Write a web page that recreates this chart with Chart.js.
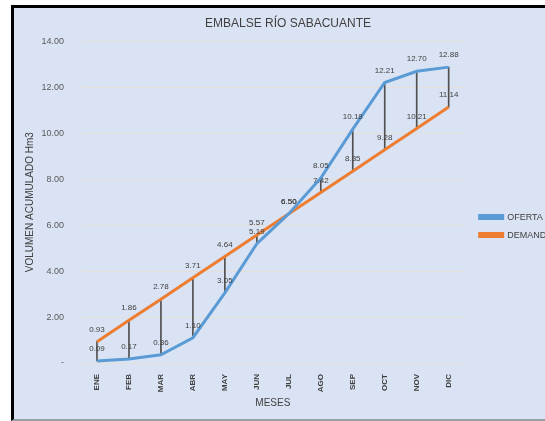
<!DOCTYPE html>
<html>
<head>
<meta charset="utf-8">
<script src="https://cdn.jsdelivr.net/npm/chart.js@4.4.0/dist/chart.umd.min.js"></script>
<style>
  html, body { margin: 0; padding: 0; background: #fff; overflow: hidden; width: 545px; height: 421px; }
  #frame {
    position: absolute; left: 11px; top: 5px;
    width: 548px; height: 411px;
    border-left: 3px solid #000; border-top: 3px solid #000; border-bottom: 2px solid #9a9ea6;
    background: #dae3f3;
  }
  #chart { display: block; }
</style>
</head>
<body>
<div id="frame"><canvas id="chart" width="548" height="411"></canvas></div>
<script>
const meses = ["ENE", "FEB", "MAR", "ABR", "MAY", "JUN", "JUL", "AGO", "SEP", "OCT", "NOV", "DIC"];
const oferta = [0.09, 0.17, 0.36, 1.10, 3.05, 5.19, 6.50, 8.05, 10.18, 12.21, 12.70, 12.88];
const demanda = [0.93, 1.86, 2.78, 3.71, 4.64, 5.57, 6.50, 7.42, 8.35, 9.28, 10.21, 11.14];
const yTicks = [0, 2, 4, 6, 8, 10, 12, 14];

const FONT = "'Liberation Sans', Arial, sans-serif";

// vertical lines between both series (high-low lines)
const rango = oferta.map((v, i) => [Math.min(v, demanda[i]), Math.max(v, demanda[i])]);

const valueLabels = {
  id: "valueLabels",
  afterDatasetsDraw(chart) {
    const ctx = chart.ctx;
    ctx.save();
    ctx.font = "8px " + FONT;
    ctx.fillStyle = "#404040";
    ctx.textAlign = "center";
    ctx.textBaseline = "middle";
    [0, 1].forEach((di) => {
      const meta = chart.getDatasetMeta(di);
      const vals = chart.data.datasets[di].data;
      meta.data.forEach((pt, i) => {
        ctx.fillText(vals[i].toFixed(2), pt.x, pt.y - 12);
      });
    });
    ctx.restore();
  },
};

const ctx = document.getElementById("chart").getContext("2d");
const myChart = new Chart(ctx, {
  data: {
    labels: meses,
    datasets: [
      {
        type: "line",
        label: "OFERTA",
        data: oferta,
        borderColor: "#5b9bd5",
        backgroundColor: "#5b9bd5",
        borderWidth: 3,
        pointRadius: 0,
        tension: 0,
        order: 1,
      },
      {
        type: "line",
        label: "DEMANDA",
        data: demanda,
        borderColor: "#ed7d31",
        backgroundColor: "#ed7d31",
        borderWidth: 3,
        pointRadius: 0,
        tension: 0,
        order: 2,
      },
      {
        type: "bar",
        label: "rango",
        data: rango,
        backgroundColor: "#505050",
        barThickness: 1,
        order: 3,
      },
    ],
  },
  options: {
    responsive: false,
    animation: false,
    layout: { padding: 0 },
    plugins: {
      tooltip: { enabled: false },
      title: {
        display: true,
        text: "EMBALSE RÍO SABACUANTE",
        color: "#404040",
        font: { family: FONT, size: 12, weight: "normal" },
        padding: { top: 8, bottom: 11 },
      },
      legend: {
        position: "right",
        align: "center",
        title: { display: true, text: " ", font: { size: 1 }, padding: 12 },
        labels: {
          filter: (item) => item.text !== "rango",
          boxWidth: 23,
          boxHeight: 3,
          padding: 9,
          color: "#404040",
          font: { family: FONT, size: 9 },
        },
      },
    },
    scales: {
      x: {
        offset: true,
        grid: { display: false },
        border: { display: false },
        ticks: {
          color: "#404040",
          font: { family: FONT, size: 8, weight: "bold" },
          minRotation: 90,
          maxRotation: 90,
          padding: 3,
        },
        title: {
          display: true,
          text: "MESES",
          color: "#404040",
          font: { family: FONT, size: 10 },
          padding: { top: 4, bottom: 10 },
        },
        afterFit: (s) => { s.height = 56; },
      },
      y: {
        min: 0,
        max: 14,
        afterBuildTicks: (s) => { s.ticks = yTicks.map((v) => ({ value: v })); },
        grid: { color: "#e2e0d9", lineWidth: 1, drawTicks: false },
        border: { display: false },
        ticks: {
          color: "#595959",
          font: { family: FONT, size: 9 },
          padding: 17,
          callback: (v) => (v === 0 ? "-" : v.toFixed(2)),
        },
        title: {
          display: true,
          text: "VOLUMEN ACUMULADO Hm3",
          color: "#404040",
          font: { family: FONT, size: 10 },
          padding: { top: 10, bottom: 4 },
        },
        afterFit: (s) => { s.width = 67; },
      },
      y2: {
        position: "right",
        display: true,
        grid: { display: false },
        border: { display: false },
        ticks: { display: false },
        afterFit: (s) => { s.width = 6; },
      },
    },
  },
  plugins: [valueLabels],
});
</script>
</body>
</html>
